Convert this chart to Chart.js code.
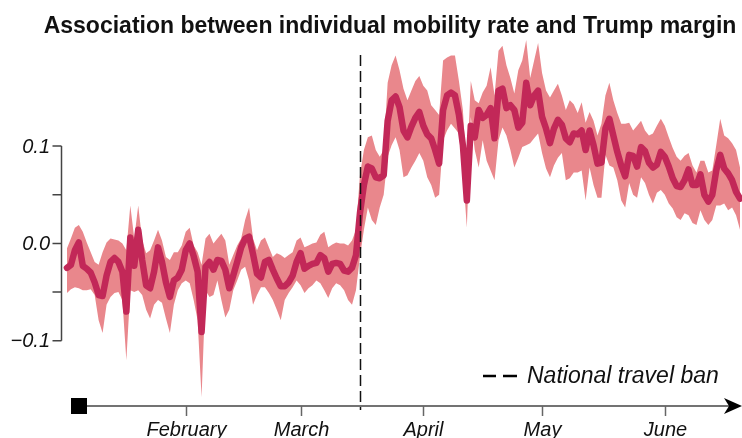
<!DOCTYPE html>
<html lang="en">
<head>
  <meta charset="UTF-8">
  <title>Mobility rate and Trump margin</title>
  <script src="https://cdn.jsdelivr.net/npm/chart.js@4.4.0/dist/chart.umd.min.js"></script>
  <style>
    body {
      margin: 0;
      background: #ffffff;
    }
    .chart-box {
      width: 742px;
      height: 438px;
    }
  </style>
</head>
<body>
  <div class="chart-box">
    <canvas id="mobility-chart"></canvas>
  </div>

  <script>
    // day-of-year of the first value (0 = Jan 1, 2020), one value per day after that
    const firstDay = 1;

    const estimate = [
      -0.025, -0.022, -0.007, 0.001, -0.023, -0.026, -0.030, -0.040, -0.053, -0.054,
      -0.033, -0.019, -0.015, -0.019, -0.029, -0.070, 0.006, -0.023, 0.014, -0.017,
      -0.043, -0.046, -0.029, -0.004, -0.019, -0.040, -0.055, -0.038, -0.035, -0.027,
      -0.007, 0.000, -0.013, -0.029, -0.091, -0.024, -0.019, -0.027, -0.017, -0.018,
      -0.027, -0.046, -0.033, -0.019, -0.004, 0.005, 0.007, -0.011, -0.031, -0.035,
      -0.019, -0.017, -0.027, -0.036, -0.044, -0.044, -0.040, -0.033, -0.019, -0.010,
      -0.026, -0.023, -0.021, -0.020, -0.012, -0.015, -0.029, -0.021, -0.020, -0.021,
      -0.028, -0.029, -0.025, -0.012, 0.031, 0.060, 0.079, 0.077, 0.068, 0.067,
      0.070, 0.126, 0.147, 0.151, 0.140, 0.116, 0.109, 0.120, 0.129, 0.135,
      0.121, 0.112, 0.108, 0.096, 0.082, 0.137, 0.152, 0.155, 0.152, 0.132,
      0.101, 0.044, 0.121, 0.109, 0.137, 0.129, 0.132, 0.139, 0.108, 0.157,
      0.159, 0.139, 0.142, 0.137, 0.119, 0.124, 0.165, 0.142, 0.152, 0.157,
      0.130, 0.118, 0.103, 0.118, 0.127, 0.122, 0.108, 0.104, 0.113, 0.112,
      0.116, 0.096, 0.116, 0.101, 0.082, 0.083, 0.118, 0.128, 0.111, 0.094,
      0.080, 0.069, 0.091, 0.090, 0.079, 0.099, 0.095, 0.083, 0.078, 0.081,
      0.094, 0.089, 0.079, 0.067, 0.059, 0.058, 0.065, 0.076, 0.060, 0.060,
      0.071, 0.050, 0.043, 0.050, 0.075, 0.091, 0.077, 0.072, 0.065, 0.053, 0.046
    ];

    const upperBound = [
      -0.005, 0.005, 0.016, 0.019, 0.012, 0.001, -0.009, -0.019, -0.022, -0.009,
      0.001, 0.005, 0.004, 0.003, 0.000, -0.007, 0.039, 0.005, 0.039, 0.003,
      -0.010, -0.007, 0.003, 0.014, 0.003, -0.014, -0.017, -0.009, -0.009, -0.002,
      0.012, 0.016, -0.002, -0.009, -0.022, 0.005, 0.010, 0.000, 0.005, 0.010,
      0.003, -0.022, -0.012, -0.002, 0.005, 0.024, 0.037, 0.005, -0.007, 0.003,
      0.006, -0.004, -0.014, -0.010, -0.012, -0.015, -0.012, -0.009, 0.003, 0.006,
      -0.004, -0.002, 0.000, 0.001, 0.009, 0.012, -0.004, -0.001, 0.001, 0.000,
      0.000, -0.002, 0.003, 0.014, 0.070, 0.096, 0.109, 0.111, 0.096, 0.089,
      0.096, 0.165, 0.183, 0.193, 0.178, 0.159, 0.147, 0.157, 0.167, 0.172,
      0.162, 0.157, 0.142, 0.137, 0.132, 0.188, 0.191, 0.193, 0.193, 0.167,
      0.137, 0.072, 0.167, 0.147, 0.144, 0.155, 0.162, 0.181, 0.152, 0.198,
      0.203, 0.183, 0.170, 0.154, 0.178, 0.188, 0.209, 0.170, 0.188, 0.206,
      0.175, 0.157, 0.150, 0.157, 0.164, 0.152, 0.137, 0.147, 0.143, 0.134,
      0.145, 0.124, 0.135, 0.126, 0.111, 0.123, 0.152, 0.165, 0.147, 0.134,
      0.123, 0.123, 0.124, 0.116, 0.121, 0.126, 0.116, 0.111, 0.113, 0.121,
      0.128, 0.121, 0.109, 0.098, 0.089, 0.085, 0.090, 0.093, 0.080, 0.073,
      0.085, 0.085, 0.073, 0.075, 0.101, 0.128, 0.111, 0.108, 0.103, 0.096, 0.078
    ];

    const lowerBound = [
      -0.051, -0.047, -0.045, -0.046, -0.048, -0.048, -0.047, -0.053, -0.079, -0.092,
      -0.063, -0.055, -0.051, -0.050, -0.058, -0.120, -0.048, -0.050, -0.048, -0.053,
      -0.068, -0.077, -0.063, -0.058, -0.061, -0.077, -0.092, -0.063, -0.048, -0.041,
      -0.038, -0.041, -0.058, -0.079, -0.158, -0.048, -0.055, -0.053, -0.038, -0.058,
      -0.076, -0.068, -0.048, -0.038, -0.027, -0.024, -0.038, -0.063, -0.053, -0.045,
      -0.045, -0.051, -0.058, -0.068, -0.079, -0.058, -0.051, -0.045, -0.038, -0.043,
      -0.051, -0.046, -0.043, -0.038, -0.041, -0.048, -0.056, -0.046, -0.041, -0.043,
      -0.048, -0.058, -0.063, -0.048, -0.014, 0.014, 0.037, 0.024, 0.019, 0.037,
      0.050, 0.089, 0.101, 0.109, 0.096, 0.068, 0.070, 0.078, 0.085, 0.093,
      0.085, 0.068, 0.060, 0.047, 0.050, 0.106, 0.116, 0.123, 0.118, 0.113,
      0.075, 0.016, 0.130, 0.096, 0.078, 0.106, 0.085, 0.075, 0.065, 0.106,
      0.119, 0.111, 0.096, 0.078, 0.088, 0.099, 0.101, 0.103, 0.108, 0.113,
      0.093, 0.077, 0.068, 0.080, 0.088, 0.093, 0.065, 0.067, 0.073, 0.073,
      0.075, 0.044, 0.078, 0.060, 0.047, 0.047, 0.091, 0.080, 0.078, 0.065,
      0.044, 0.037, 0.062, 0.050, 0.047, 0.068, 0.062, 0.050, 0.041, 0.052,
      0.055, 0.050, 0.041, 0.036, 0.027, 0.024, 0.031, 0.029, 0.021, 0.019,
      0.034, 0.024, 0.019, 0.024, 0.039, 0.039, 0.041, 0.034, 0.037, 0.029, 0.014
    ];

    // month starts (day of year) and their labels
    const monthDays = [31, 60, 91, 121, 152];
    const monthLabels = ['February', 'March', 'April', 'May', 'June'];

    const yTickValues = [0.1, 0.0, -0.1];
    const yTickLabels = ['0.1', '0.0', '\u22120.1'];
    const yMinorValues = [0.05, -0.05];

    const travelBanDay = 75;
    const titleText = 'Association between individual mobility rate and Trump margin';
    const banLabel = 'National travel ban';

    const toPoints = arr => arr.map((v, i) => ({ x: firstDay + i, y: v }));

    // axes, labels and the travel ban marker drawn by hand
    const decorPlugin = {
      id: 'decor',
      afterDatasetsDraw(chart) {
        const { ctx, scales: { x, y } } = chart;
        ctx.save();

        // travel ban line
        const bx = Math.round(x.getPixelForValue(travelBanDay)) + 0.5;
        ctx.strokeStyle = '#111';
        ctx.lineWidth = 1.5;
        ctx.setLineDash([11, 5]);
        ctx.beginPath();
        ctx.moveTo(bx, 55);
        ctx.lineTo(bx, 410);
        ctx.stroke();
        ctx.setLineDash([]);

        // y axis
        const axisX = 61.5;
        const yTop = y.getPixelForValue(yTickValues[0]);
        const yBot = y.getPixelForValue(yTickValues[yTickValues.length - 1]);
        ctx.strokeStyle = '#444';
        ctx.lineWidth = 1.5;
        ctx.beginPath();
        ctx.moveTo(axisX, yTop);
        ctx.lineTo(axisX, yBot);
        yTickValues.concat(yMinorValues).forEach(v => {
          const py = y.getPixelForValue(v);
          ctx.moveTo(axisX, py);
          ctx.lineTo(axisX - 9, py);
        });
        ctx.stroke();

        ctx.fillStyle = '#111';
        ctx.font = 'italic 20px "Liberation Sans", Arial, sans-serif';
        ctx.textAlign = 'right';
        ctx.textBaseline = 'middle';
        yTickValues.forEach((v, i) => {
          ctx.fillText(yTickLabels[i], 50, y.getPixelForValue(v) + 1);
        });

        // x axis with arrow and start square
        const axisY = 406;
        ctx.strokeStyle = '#444';
        ctx.lineWidth = 1.5;
        ctx.beginPath();
        ctx.moveTo(86, axisY);
        ctx.lineTo(730, axisY);
        ctx.stroke();

        ctx.fillStyle = '#000';
        ctx.fillRect(71, 398, 16, 16);
        ctx.beginPath();
        ctx.moveTo(742, axisY);
        ctx.lineTo(724, axisY - 8);
        ctx.lineTo(729, axisY);
        ctx.lineTo(724, axisY + 8);
        ctx.closePath();
        ctx.fill();

        ctx.strokeStyle = '#666';
        ctx.lineWidth = 1.5;
        ctx.font = 'italic 20px "Liberation Sans", Arial, sans-serif';
        ctx.textAlign = 'center';
        ctx.textBaseline = 'alphabetic';
        ctx.fillStyle = '#111';
        monthDays.forEach((d, i) => {
          const px = Math.round(x.getPixelForValue(d)) + 0.5;
          ctx.beginPath();
          ctx.moveTo(px, axisY);
          ctx.lineTo(px, axisY + 10);
          ctx.stroke();
          ctx.fillText(monthLabels[i], px, 436);
        });

        // legend for the ban line
        ctx.strokeStyle = '#000';
        ctx.lineWidth = 2.5;
        ctx.beginPath();
        ctx.moveTo(483, 376);
        ctx.lineTo(496, 376);
        ctx.moveTo(503, 376);
        ctx.lineTo(517, 376);
        ctx.stroke();
        ctx.font = 'italic 23px "Liberation Sans", Arial, sans-serif';
        ctx.textAlign = 'left';
        ctx.fillText(banLabel, 527, 383);

        // title
        ctx.font = 'bold 23px "Liberation Sans", Arial, sans-serif';
        ctx.textAlign = 'center';
        ctx.fillText(titleText, 390, 33);

        ctx.restore();
      }
    };

    const ctx = document.getElementById('mobility-chart').getContext('2d');
    const chart = new Chart(ctx, {
      type: 'line',
      data: {
        datasets: [
          {
            label: 'upper',
            data: toPoints(upperBound),
            borderWidth: 0,
            pointRadius: 0,
            tension: 0,
            backgroundColor: '#e9878c',
            fill: '+1',
            order: 2
          },
          {
            label: 'lower',
            data: toPoints(lowerBound),
            borderWidth: 0,
            pointRadius: 0,
            tension: 0,
            fill: false,
            order: 2
          },
          {
            label: 'estimate',
            data: toPoints(estimate),
            borderColor: '#c22858',
            borderWidth: 6.5,
            borderJoinStyle: 'round',
            borderCapStyle: 'round',
            pointRadius: 0,
            tension: 0,
            fill: false,
            order: 0
          }
        ]
      },
      options: {
        responsive: true,
        maintainAspectRatio: false,
        animation: false,
        layout: {
          padding: { left: 63, right: 0, top: 40, bottom: 32 }
        },
        plugins: {
          legend: { display: false },
          tooltip: { enabled: false },
          title: { display: false }
        },
        scales: {
          x: { type: 'linear', min: 0, max: 171.5, display: false },
          y: { min: -0.167, max: 0.209, display: false }
        }
      },
      plugins: [decorPlugin]
    });
  </script>
</body>
</html>
